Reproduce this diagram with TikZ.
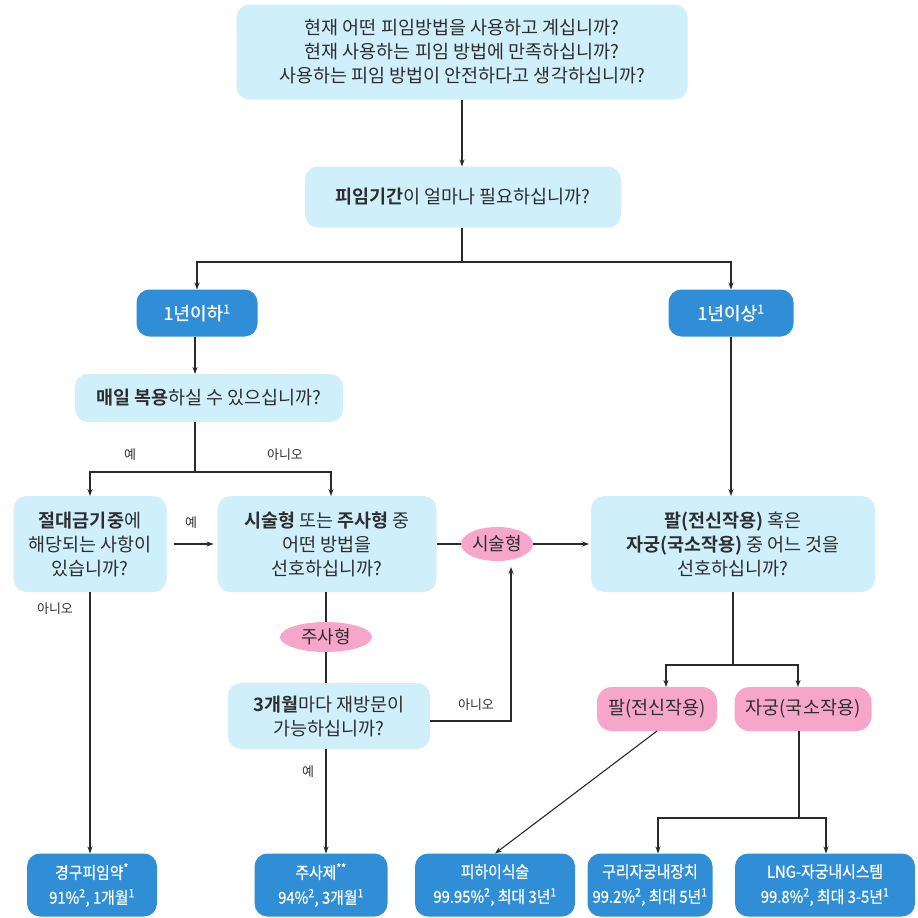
\documentclass[tikz,border=0pt]{standalone}
\usepackage{fontspec}
\setmainfont{Noto Sans CJK KR}[BoldFont={Noto Sans CJK KR Bold}]
\newfontfamily\condfont{Noto Sans CJK KR}[FakeStretch=0.9,FakeBold=0.7]
\newfontfamily\whitefont{Noto Sans CJK KR}[FakeBold=0.7]
\usetikzlibrary{arrows.meta,shapes.geometric}
\definecolor{lightbox}{HTML}{CFEFFB}
\definecolor{darkbox}{HTML}{2F8ED6}
\definecolor{pinkbox}{HTML}{F5A6C9}
\definecolor{txt}{HTML}{2E2E2E}
\definecolor{linec}{HTML}{2A2A2A}
\begin{document}
\begin{tikzpicture}[x=1pt,y=-1pt,
  every node/.style={inner sep=0pt,outer sep=0pt,align=center},
  qbox/.style={fill=lightbox,rounded corners=13pt,text=txt,font=\fontsize{18.5}{24}\selectfont},
  dbox/.style={fill=darkbox,rounded corners=13pt,text=white,font=\whitefont\fontsize{18}{22}\selectfont},
  rbox/.style={fill=darkbox,rounded corners=13pt,text=white,font=\condfont\fontsize{16.5}{25}\selectfont,minimum height=63pt},
  pbox/.style={fill=pinkbox,rounded corners=15pt,text=txt,font=\fontsize{18.5}{22}\selectfont,minimum height=44pt},
  pell/.style={ellipse,fill=pinkbox,text=txt,font=\fontsize{18}{22}\selectfont},
  lab/.style={text=txt,font=\fontsize{13}{15}\selectfont},
  conn/.style={draw=linec,line width=1.1pt},
  arr/.style={conn,-{Stealth[length=7pt,width=5pt]}}]
\useasboundingbox (0,0) rectangle (918,918);
\fill[white] (0,0) rectangle (918,918);

\node[qbox,minimum width=451pt,minimum height=95pt] (top) at (462,52)
  {현재 어떤 피임방법을 사용하고 계십니까?\\현재 사용하는 피임 방법에 만족하십니까?\\사용하는 피임 방법이 안전하다고 생각하십니까?};
\node[qbox,minimum width=316pt,minimum height=61pt] (dur) at (463,197)
  {\textbf{피임기간}이 얼마나 필요하십니까?};
\node[dbox,minimum width=121pt,minimum height=47pt] (short) at (197,313) {1년이하\textsuperscript{1}};
\node[dbox,minimum width=125pt,minimum height=47pt] (long) at (731,313) {1년이상\textsuperscript{1}};
\node[qbox,minimum width=268pt,minimum height=48pt] (daily) at (209,398)
  {\textbf{매일 복용}하실 수 있으십니까?};
\node[qbox,minimum width=153pt,minimum height=96pt] (contra) at (90,544)
  {\textbf{절대금기중}에\\해당되는 사항이\\있습니까?};
\node[qbox,minimum width=219pt,minimum height=96pt] (method) at (327,544)
  {\textbf{시술형} 또는 \textbf{주사형} 중\\어떤 방법을\\선호하십니까?};
\node[qbox,minimum width=284pt,minimum height=96pt] (arm) at (733,544)
  {\textbf{팔(전신작용)} 혹은\\\textbf{자궁(국소작용)} 중 어느 것을\\선호하십니까?};
\node[pell,minimum width=72pt,minimum height=34pt] (ell1) at (497,544) {시술형};
\node[pell,minimum width=92pt,minimum height=30pt] (ell2) at (326,637) {주사형};
\node[qbox,minimum width=202pt,minimum height=66pt] (three) at (329,716)
  {\textbf{3개월}마다 재방문이\\가능하십니까?};
\node[pbox,minimum width=120pt] (pink1) at (657,709) {팔(전신작용)};
\node[pbox,minimum width=137pt] (pink2) at (803,709) {자궁(국소작용)};
\node[rbox,minimum width=130pt] (b1) at (92,885) {경구피임약\textsuperscript{*}\\91\%\textsuperscript{2}, 1개월\textsuperscript{1}};
\node[rbox,minimum width=133pt] (b2) at (321,885) {주사제\textsuperscript{**}\\94\%\textsuperscript{2}, 3개월\textsuperscript{1}};
\node[rbox,minimum width=160pt] (b3) at (495,885) {피하이식술\\99.95\%\textsuperscript{2}, 최대 3년\textsuperscript{1}};
\node[rbox,minimum width=125pt] (b4) at (650,885) {구리자궁내장치\\99.2\%\textsuperscript{2}, 최대 5년\textsuperscript{1}};
\node[rbox,minimum width=180pt] (b5) at (825,885) {LNG-자궁내시스템\\99.8\%\textsuperscript{2}, 최대 3-5년\textsuperscript{1}};

% connectors
\draw[arr] (top.south) -- (top.south |- dur.north);
\coordinate (j1) at (462,262);
\draw[conn] (j1 |- dur.south) -- (j1);
\draw[arr] (j1) -| (short.north);
\draw[arr] (j1) -| (long.north);
\coordinate (j2) at (195,472);
\draw[arr] (short.south -| j2) -- (j2 |- daily.north);
\draw[conn] (j2 |- daily.south) -- (j2);
\draw[arr] (j2) -| (contra.north);
\coordinate (j2r) at (331,472);
\draw[arr] (j2) -- (j2r) -- (j2r |- method.north);
\node[lab] (lyes1) at (130,455) {예};
\node[lab] (lno1) at (285,455) {아니오};
\draw[arr] ([xshift=7pt]contra.east) -- ([xshift=-4pt]method.west);
\node[lab] (lyes2) at (191,523) {예};
\draw[conn] (method.east) -- (ell1.west);
\draw[arr] (ell1.east) -- ([xshift=-2pt]arm.west);
\draw[arr] (long.south) -- (long.south |- arm.north);
\draw[conn] (method.south -| ell2) -- (ell2.north);
\draw[conn] (ell2.south) -- (ell2.south |- three.north);
\coordinate (j3) at (511,721);
\coordinate (j3t) at (511,567);
\draw[arr] (three.east |- j3) -- (j3) -- (j3t);
\node[lab] (lno2) at (476,705) {아니오};
\draw[arr] (three.south -| ell2) -- (ell2 |- b2.north);
\node[lab] (lyes3) at (308,772) {예};
\draw[arr] (contra.south) -- (contra.south |- b1.north);
\node[lab] (lno3) at (55,609) {아니오};
\coordinate (j4) at (733,665);
\draw[conn] (arm.south) -- (j4);
\draw[arr] (j4) -| ([xshift=9pt]pink1.north);
\draw[arr] (j4) -| ([xshift=-5pt]pink2.north);
\draw[arr] (pink1.south) -- (b3.north);
\coordinate (j5) at (799,818);
\draw[conn] (j5 |- pink2.south) -- (j5);
\draw[arr] (j5) -| ([xshift=8pt]b4.north);
\draw[arr] (j5) -| ([xshift=1pt]b5.north);
\end{tikzpicture}
\end{document}
